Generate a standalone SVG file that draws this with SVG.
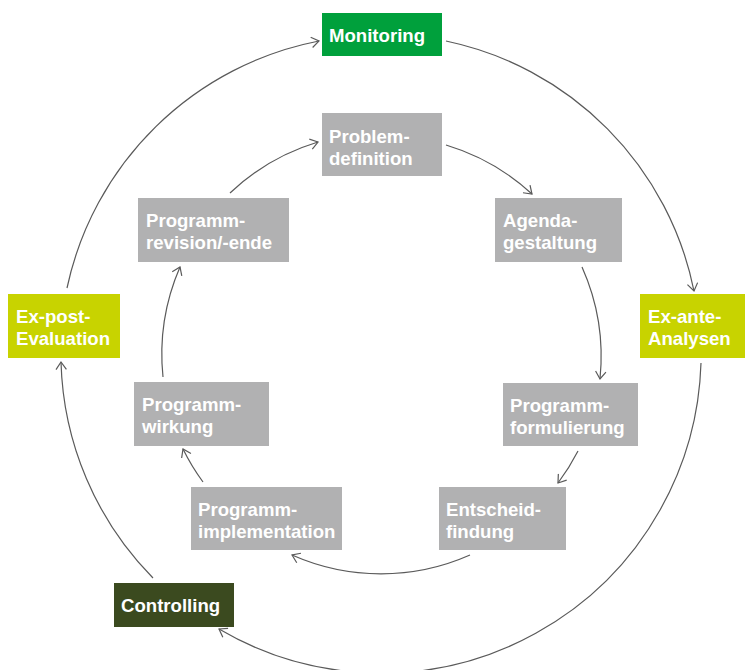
<svg xmlns="http://www.w3.org/2000/svg" width="745" height="670" viewBox="0 0 745 670">
<style>
  .lbl { font-family: "Liberation Sans", Arial, sans-serif; font-weight: bold; font-size: 18.6px; fill: #ffffff; }
  .gray { fill: #b1b1b2; }
  .green { fill: #00a03c; }
  .lime { fill: #c8d300; }
  .olive { fill: #3b4a1f; }
  .conn { fill: none; stroke: #5a5a5a; stroke-width: 1.2; marker-end: url(#arr); }
</style>
<defs>
  <marker id="arr" viewBox="0 0 10 12" refX="8.5" refY="6" markerWidth="10" markerHeight="12" markerUnits="userSpaceOnUse" orient="auto">
    <path d="M1,0.8 L8.5,6 L1,11.2" fill="none" stroke="#5a5a5a" stroke-width="1.2"/>
  </marker>
</defs>
<rect width="745" height="670" fill="#ffffff"/>

<g id="connectors">
  <!-- outer circle -->
  <path class="conn" d="M446,41 A320,320 0 0 1 694,291"/>
  <path class="conn" d="M701,363 A320,320 0 0 1 219,629"/>
  <path class="conn" d="M153,578 A320,320 0 0 1 61,362"/>
  <path class="conn" d="M67,288 A320,320 0 0 1 319,41"/>
  <!-- inner circle -->
  <path class="conn" d="M446,145 A220,220 0 0 1 532,194"/>
  <path class="conn" d="M582,267 A220,220 0 0 1 600,379"/>
  <path class="conn" d="M578,451 A220,220 0 0 1 558,483"/>
  <path class="conn" d="M470,555 A220,220 0 0 1 292,555"/>
  <path class="conn" d="M203,482 A220,220 0 0 1 183,449"/>
  <path class="conn" d="M163,377 A220,220 0 0 1 180,267"/>
  <path class="conn" d="M230,193 A220,220 0 0 1 318,142"/>
</g>

<g id="monitoring">
  <rect class="green" x="322" y="13" width="120" height="43"/>
  <text class="lbl" x="329" y="42">Monitoring</text>
</g>
<g id="ex-ante">
  <rect class="lime" x="640" y="294" width="105" height="64"/>
  <text class="lbl" x="648" y="323">Ex-ante-</text>
  <text class="lbl" x="648" y="345">Analysen</text>
</g>
<g id="controlling">
  <rect class="olive" x="114" y="583" width="120" height="44"/>
  <text class="lbl" x="121" y="612">Controlling</text>
</g>
<g id="ex-post">
  <rect class="lime" x="8" y="294" width="112" height="64"/>
  <text class="lbl" x="16" y="323">Ex-post-</text>
  <text class="lbl" x="16" y="345">Evaluation</text>
</g>

<g id="problemdefinition">
  <rect class="gray" x="322" y="113" width="120" height="63"/>
  <text class="lbl" x="329" y="143">Problem-</text>
  <text class="lbl" x="329" y="165">definition</text>
</g>
<g id="agendagestaltung">
  <rect class="gray" x="495" y="198" width="127" height="64"/>
  <text class="lbl" x="503" y="227">Agenda-</text>
  <text class="lbl" x="503" y="249">gestaltung</text>
</g>
<g id="programmformulierung">
  <rect class="gray" x="503" y="383" width="135" height="63"/>
  <text class="lbl" x="510" y="412">Programm-</text>
  <text class="lbl" x="510" y="434">formulierung</text>
</g>
<g id="entscheidfindung">
  <rect class="gray" x="439" y="487" width="127" height="63"/>
  <text class="lbl" x="446" y="516">Entscheid-</text>
  <text class="lbl" x="446" y="538">findung</text>
</g>
<g id="programmimplementation">
  <rect class="gray" x="191" y="487" width="151" height="63"/>
  <text class="lbl" x="198" y="516">Programm-</text>
  <text class="lbl" x="198" y="538">implementation</text>
</g>
<g id="programmwirkung">
  <rect class="gray" x="134" y="382" width="135" height="64"/>
  <text class="lbl" x="142" y="411">Programm-</text>
  <text class="lbl" x="142" y="433">wirkung</text>
</g>
<g id="programmrevision">
  <rect class="gray" x="138" y="198" width="151" height="64"/>
  <text class="lbl" x="146" y="227">Programm-</text>
  <text class="lbl" x="146" y="249">revision/-ende</text>
</g>
</svg>
